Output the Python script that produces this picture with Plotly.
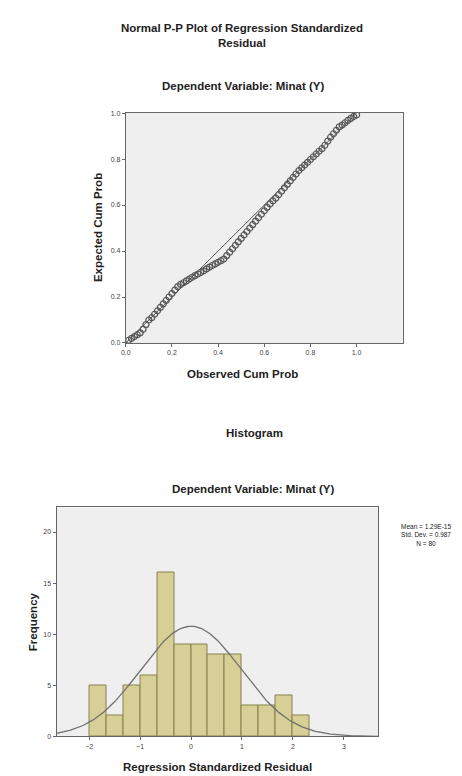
import plotly.graph_objects as go
import numpy as np

# P-P plot data (observed vs expected cumulative probability)
pp_observed = [0.0125, 0.025, 0.0375, 0.05, 0.0625,
               0.075, 0.0875,
               0.1, 0.1125, 0.125, 0.1375, 0.15,
               0.1625, 0.175, 0.1875, 0.2, 0.2125, 0.225,
               0.2375, 0.25, 0.2625, 0.275, 0.2875, 0.3, 0.3125, 0.325,
               0.3375, 0.35, 0.3625, 0.375, 0.3875, 0.4, 0.4125, 0.425,
               0.4375, 0.45, 0.4625, 0.475, 0.4875, 0.5, 0.5125, 0.525, 0.5375,
               0.55, 0.5625, 0.575, 0.5875, 0.6, 0.6125, 0.625, 0.6375, 0.65,
               0.6625, 0.675, 0.6875, 0.7, 0.7125, 0.725, 0.7375, 0.75,
               0.7625, 0.775, 0.7875, 0.8, 0.8125, 0.825, 0.8375, 0.85,
               0.8625, 0.875, 0.8875,
               0.9, 0.9125, 0.925,
               0.9375, 0.95, 0.9625, 0.975,
               0.9875, 1.0]
pp_expected = [0.012, 0.02, 0.028, 0.036, 0.044,
               0.06, 0.08,
               0.10, 0.11, 0.125, 0.14, 0.155,
               0.17, 0.185, 0.20, 0.215, 0.23, 0.245,
               0.255, 0.262, 0.27, 0.278, 0.286, 0.293, 0.30, 0.307,
               0.314, 0.322, 0.33, 0.337, 0.344, 0.351, 0.358, 0.365,
               0.38, 0.395, 0.41, 0.425, 0.44, 0.455, 0.47, 0.485, 0.50,
               0.515, 0.53, 0.545, 0.56, 0.575, 0.59, 0.605, 0.618, 0.63,
               0.645, 0.66, 0.675, 0.69, 0.705, 0.72, 0.735, 0.75,
               0.762, 0.774, 0.786, 0.798, 0.81, 0.822, 0.834, 0.845,
               0.86, 0.878, 0.895,
               0.91, 0.925, 0.94,
               0.948, 0.958, 0.968, 0.977,
               0.985, 0.992]
ref_line = [0.0, 1.0]
pp_ticks = [0.0, 0.2, 0.4, 0.6, 0.8, 1.0]
pp_ticklabels = ["0.0", "0.2", "0.4", "0.6", "0.8", "1.0"]

# Histogram data
bin_left_edges = [-2.0, -1.6667, -1.3333, -1.0, -0.6667, -0.3333, 0.0,
                  0.3333, 0.6667, 1.0, 1.3333, 1.6667, 2.0]
bin_width = 1/3
frequencies = [5, 2, 5, 6, 16, 9, 9, 8, 8, 3, 3, 4, 2]
resid_mean = 0.0
resid_sd = 0.987
n_obs = 80
hist_xticks = [-2, -1, 0, 1, 2, 3]
hist_yticks = [0, 5, 10, 15, 20]

FONT = "Liberation Sans, Arial, sans-serif"
W, H = 462, 776

def px(x):
    return x / W

def py(y):
    return 1 - y / H

fig = go.Figure()

# P-P plot
fig.add_trace(go.Scatter(x=ref_line, y=ref_line, mode="lines",
                         line=dict(color="#555555", width=1),
                         xaxis="x", yaxis="y", hoverinfo="skip"))
fig.add_trace(go.Scatter(x=pp_observed, y=pp_expected, mode="markers",
                         marker=dict(symbol="circle-open", size=6,
                                     color="#555555", line=dict(width=1.2)),
                         xaxis="x", yaxis="y"))

# Histogram
centers = [e + bin_width / 2 for e in bin_left_edges]
fig.add_trace(go.Bar(x=centers, y=frequencies, width=bin_width,
                     marker=dict(color="#d7cf95",
                                 line=dict(color="#8a8250", width=1)),
                     xaxis="x2", yaxis="y2"))
xs = np.linspace(-2.64, 3.67, 300)
curve = n_obs * bin_width * np.exp(-0.5 * ((xs - resid_mean) / resid_sd) ** 2) / (resid_sd * np.sqrt(2 * np.pi))
fig.add_trace(go.Scatter(x=xs, y=curve, mode="lines",
                         line=dict(color="#707070", width=1.3),
                         xaxis="x2", yaxis="y2", hoverinfo="skip"))

axis_common = dict(showgrid=False, zeroline=False, showline=True, mirror=True,
                   linecolor="#666666", linewidth=1, ticks="outside",
                   ticklen=3, tickcolor="#666666",
                   tickfont=dict(family=FONT, size=7, color="#444444"))

fig.update_layout(
    width=W, height=H, margin=dict(l=0, r=0, t=0, b=0),
    paper_bgcolor="white", plot_bgcolor="#efefef", showlegend=False,
    bargap=0,
    xaxis=dict(domain=[px(114), px(394)], range=[0, 1.2], anchor="y",
               tickvals=pp_ticks, ticktext=pp_ticklabels, **axis_common),
    yaxis=dict(domain=[py(334), py(102)], range=[0, 1.0], anchor="x",
               tickvals=pp_ticks, ticktext=pp_ticklabels, **axis_common),
    xaxis2=dict(domain=[px(44), px(369)], range=[-2.64, 3.67], anchor="y2",
                tickvals=hist_xticks, **axis_common),
    yaxis2=dict(domain=[py(731), py(500)], range=[0, 22.4], anchor="x2",
                tickvals=hist_yticks, **axis_common),
)

def ann(text, x, y, size, bold=True, angle=0, align="center"):
    t = f"<b>{text}</b>" if bold else text
    fig.add_annotation(text=t, x=px(x), y=py(y), xref="paper", yref="paper",
                       showarrow=False, textangle=angle, align=align,
                       font=dict(family=FONT, size=size, color="#222222"),
                       xanchor="center", yanchor="middle")

ann("Normal P-P Plot of Regression Standardized<br>Residual", 231, 24, 11.5)
ann("Dependent Variable: Minat (Y)", 233, 75, 11.5)
ann("Observed Cum Prob", 232, 365, 11.5)
ann("Expected Cum Prob", 86, 218, 11.5, angle=-90)
ann("Histogram", 244, 425, 11.5)
ann("Dependent Variable: Minat (Y)", 243, 481, 11.5)
ann("Frequency", 21, 615, 11.5, angle=-90)
ann("Regression Standardized Residual", 207, 762, 11.5)
ann(f"Mean = 1.29E-15<br>Std. Dev. = {resid_sd}<br>N = {n_obs}", 418, 528, 6.5, bold=False)

fig.write_html("out.html")
